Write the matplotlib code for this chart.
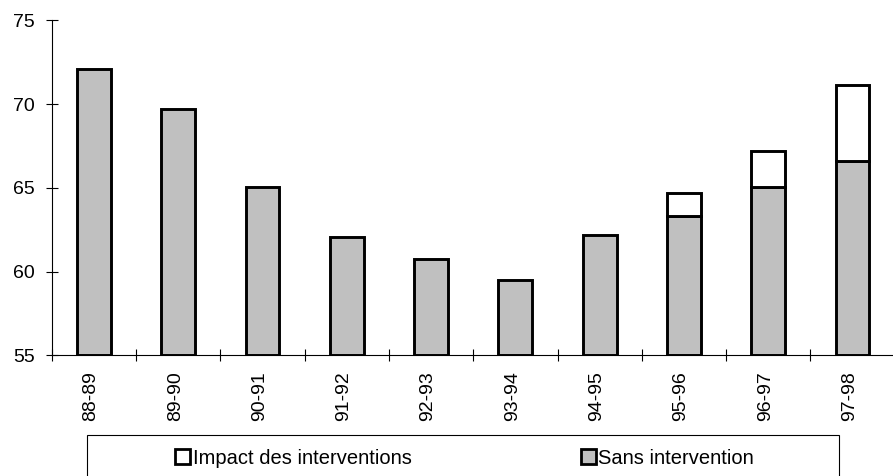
import matplotlib
matplotlib.use("Agg")
import matplotlib.pyplot as plt
from matplotlib.patches import Rectangle
import matplotlib.transforms as mtransforms
import numpy as np

plt.rcParams['font.family'] = ['Liberation Sans', 'DejaVu Sans']

categories = ["88-89", "89-90", "90-91", "91-92", "92-93", "93-94", "94-95", "95-96", "96-97", "97-98"]
sans_intervention = [72.1, 69.7, 65.05, 62.05, 60.75, 59.5, 62.2, 63.3, 65.05, 66.6]
total_avec_impact = [72.1, 69.7, 65.05, 62.05, 60.75, 59.5, 62.2, 64.7, 67.2, 71.15]
impact = [t - s for t, s in zip(total_avec_impact, sans_intervention)]
y_ticks = [55, 60, 65, 70, 75]
base = 55

W, H = 893, 476
fig = plt.figure(figsize=(W / 100, H / 100), dpi=100)
ax = fig.add_axes([51.7 / W, 1 - 355.3 / H, 843 / W, (355.3 - 20.5) / H])

x = np.arange(len(categories))
bw = 0.40
lw_bar = 2.1
b1 = ax.bar(x, [s - base for s in sans_intervention], bottom=base, width=bw,
            color="#C0C0C0", edgecolor="black", linewidth=lw_bar, zorder=3,
            label="Sans intervention")
mask = [i > 0.01 for i in impact]
b2 = ax.bar(x[mask], np.array(impact)[mask], bottom=np.array(sans_intervention)[mask],
            width=bw, color="white", edgecolor="black", linewidth=lw_bar, zorder=3,
            label="Impact des interventions")

ax.set_xlim(-0.5, len(categories) - 0.5)
ax.set_ylim(55, 75)
ax.set_yticks(y_ticks)
ax.set_yticklabels([str(v) for v in y_ticks], fontsize=14)
ax.tick_params(axis='y', direction='inout', length=9, width=0.8, pad=7.5)

ax.set_xticks(x)
ax.set_xticklabels(categories, rotation=90, fontsize=14, va='top')
ax.tick_params(axis='x', which='major', length=0, pad=11.5)
offset = mtransforms.ScaledTranslation(-3 / 100, 0, fig.dpi_scale_trans)
for lbl in ax.get_xticklabels():
    lbl.set_transform(lbl.get_transform() + offset)
ax.set_xticks(np.arange(len(categories) + 1) - 0.5, minor=True)
ax.tick_params(axis='x', which='minor', direction='inout', length=9, width=0.8)

for s in ['top', 'right']:
    ax.spines[s].set_visible(False)
for s in ['left', 'bottom']:
    ax.spines[s].set_linewidth(0.8)
ax.spines['bottom'].set_zorder(4)

# legend frame
fig.patches.append(Rectangle((87.3 / W, -0.05), (839.3 - 87.3) / W, 0.05 + 1 - 435.3 / H,
                             transform=fig.transFigure, fill=False, edgecolor="black",
                             linewidth=0.8))
handles = [b2, b1]
leg = fig.legend(handles, ["Impact des interventions", "Sans intervention"],
                 loc='center left', bbox_to_anchor=(175 / W, 1 - 458 / H),
                 ncol=2, frameon=False, fontsize=14.5, borderpad=0, borderaxespad=0,
                 handlelength=0.74, handleheight=0.74, handletextpad=0.14,
                 columnspacing=8.4)
for p in leg.get_patches():
    p.set_linewidth(2.0)

fig.savefig("out.png", dpi=100)
